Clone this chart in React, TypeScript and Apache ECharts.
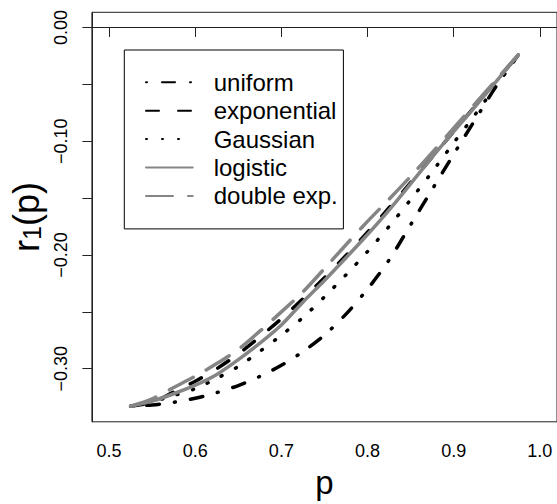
import React, { useEffect, useRef } from "react";
import * as echarts from "echarts";

// p grid and r1(p) values
const pValues = [0.525, 0.55, 0.575, 0.6, 0.625, 0.65, 0.675, 0.7, 0.725, 0.75, 0.775, 0.8, 0.825, 0.85, 0.875, 0.9, 0.925, 0.95, 0.975];
const uniform = [-0.333, -0.3318, -0.3295, -0.326, -0.321, -0.3148, -0.3068, -0.297, -0.285, -0.2705, -0.252, -0.23, -0.2045, -0.1735, -0.1425, -0.1115, -0.081, -0.051, -0.0242];
const exponential = [-0.333, -0.3295, -0.3205, -0.311, -0.3, -0.287, -0.272, -0.256, -0.2385, -0.22, -0.2005, -0.18, -0.1585, -0.1365, -0.114, -0.0915, -0.069, -0.0465, -0.0242];
const gaussian = [-0.333, -0.329, -0.3235, -0.3175, -0.3085, -0.298, -0.2848, -0.2705, -0.255, -0.2368, -0.2175, -0.197, -0.175, -0.1515, -0.127, -0.1015, -0.0765, -0.0505, -0.0245];
const logistic = [-0.333, -0.3285, -0.322, -0.3145, -0.305, -0.292, -0.2775, -0.2615, -0.2415, -0.2225, -0.2025, -0.182, -0.1605, -0.1375, -0.114, -0.0915, -0.0695, -0.047, -0.0242];
const doubleExp = [-0.333, -0.3265, -0.3165, -0.3065, -0.2955, -0.283, -0.267, -0.25, -0.2325, -0.212, -0.191, -0.1705, -0.151, -0.131, -0.11, -0.0885, -0.067, -0.0455, -0.0242];

const seriesNames = ["uniform", "exponential", "Gaussian", "logistic", "double exp."];
const xTicks = [0.5, 0.6, 0.7, 0.8, 0.9, 1.0];
const yTicks = [-0.3, -0.25, -0.2, -0.15, -0.1, -0.05, 0];
const yLabels = [-0.3, -0.2, -0.1, 0];

const FONT = "'Liberation Sans', Arial, Helvetica, sans-serif";
const GRAY = "#858585";
const LW = 3.5;

export default function App() {
  const ref = useRef<HTMLDivElement>(null);
  useEffect(() => {
    document.body.style.margin = "0";
    if (!ref.current) return;
    const chart = echarts.init(ref.current, undefined, { renderer: "svg" });
    const mk = (arr: number[]) => pValues.map((p, i) => [p, arr[i]]);
    const styles: any[] = [
      { color: "#000", type: [1, 15, 13, 15] },
      { color: "#000", type: [13, 19] },
      { color: "#000", type: [1, 15] },
      { color: GRAY, type: "solid" },
      { color: GRAY, type: [27, 15] },
    ];
    const datasets = [uniform, exponential, gaussian, logistic, doubleExp];
    chart.setOption({
      animation: false,
      grid: {
        left: 89.9,
        top: 12.3,
        width: 470.6,
        height: 411.7,
        show: true,
        borderColor: "#222",
        borderWidth: 1,
        backgroundColor: "transparent",
      },
      legend: {
        orient: "vertical",
        left: 124.3,
        top: 50,
        padding: [18.1, 5.6, 18.8, 20.7],
        itemGap: 0,
        itemWidth: 46.7,
        itemHeight: 28.4,
        borderColor: "#000",
        borderWidth: 1,
        backgroundColor: "#fff",
        data: seriesNames,
        itemStyle: { opacity: 0, borderWidth: 0 },
        textStyle: {
          fontFamily: FONT,
          fontSize: 24,
          lineHeight: 28.4,
          color: "#000",
          padding: [0, 0, 0, 16],
        },
      },
      xAxis: {
        type: "value",
        min: 0.48,
        max: 1.02,
        name: "p",
        nameLocation: "middle",
        nameGap: 44.2,
        nameTextStyle: { fontFamily: FONT, fontSize: 33, lineHeight: 33, color: "#000" },
        axisLine: { show: true, lineStyle: { color: "#222", width: 1 } },
        axisTick: { show: true, customValues: xTicks, length: 9.5, lineStyle: { color: "#222" } },
        axisLabel: {
          customValues: xTicks,
          formatter: (v: number) => v.toFixed(1),
          fontFamily: FONT,
          fontSize: 18,
          lineHeight: 18,
          color: "#000",
          margin: 20.5,
        },
        splitLine: { show: false },
      },
      yAxis: {
        type: "value",
        min: -0.34667,
        max: 0.01333,
        name: "{a|r}{b|1}{a|(p)}",
        nameLocation: "middle",
        nameGap: 47,
        nameTextStyle: {
          fontFamily: FONT,
          fontSize: 36,
          color: "#000",
          rich: {
            a: { fontFamily: FONT, fontSize: 36, lineHeight: 36, color: "#000" },
            b: { fontFamily: FONT, fontSize: 25, lineHeight: 12, verticalAlign: "bottom", color: "#000" },
          },
        },
        axisLine: { show: true, lineStyle: { color: "#222", width: 1 } },
        axisTick: { show: true, customValues: yTicks, length: 9.5, lineStyle: { color: "#222" } },
        axisLabel: {
          customValues: yLabels,
          rotate: 90,
          formatter: (v: number) => (v < 0 ? "\u2212" : "") + Math.abs(v).toFixed(2),
          fontFamily: FONT,
          fontSize: 18,
          lineHeight: 18,
          color: "#000",
          margin: 22,
        },
        splitLine: { show: false },
      },
      series: seriesNames.map((name, i) => ({
        name,
        type: "line",
        data: mk(datasets[i]),
        symbol: "none",
        showSymbol: false,
        smooth: 0.3,
        color: styles[i].color,
        lineStyle: { color: styles[i].color, width: LW, type: styles[i].type, cap: "round", join: "round" },
        z: 2 + i,
      })),
    });
    return () => chart.dispose();
  }, []);
  return <div ref={ref} style={{ width: 557, height: 504 }} />;
}
